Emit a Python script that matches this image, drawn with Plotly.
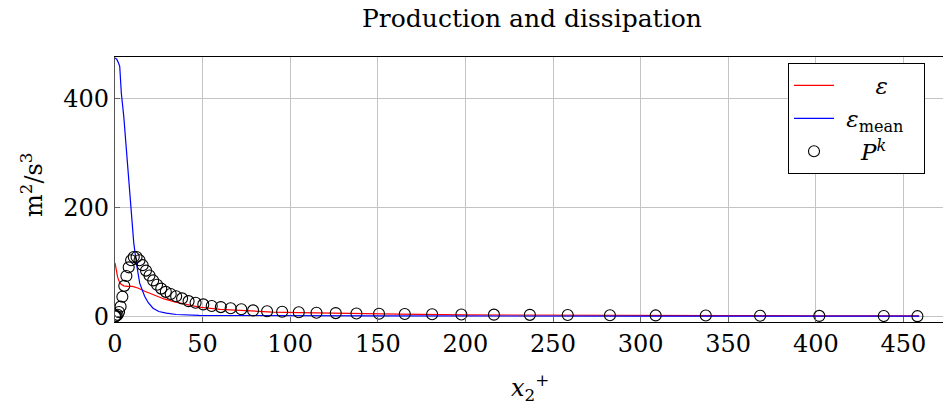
import plotly.graph_objects as go

# ---- data ----
x_eps = [0, 0.5, 1.5, 2.5, 3.5, 5, 7, 10, 13, 17, 22.5, 28, 34, 40, 48, 60, 75, 90, 105,
         130, 162, 200, 250, 300, 350, 400, 459]
eps = [98, 88, 72, 63, 59, 56, 55, 55, 52, 46, 38.5, 32, 26.5, 22, 17, 13, 10, 8, 7,
       5.5, 4, 2.8, 2, 1.6, 1.3, 1.1, 1.0]

x_mean = [0, 1, 2, 2.7, 3.6, 5, 6.5, 8, 9.4, 10.7, 12.2, 14.1, 16.9, 19, 21.7, 25, 29.3,
          35, 48, 80, 150, 300, 459]
eps_mean = [474, 472, 465, 459, 410, 367, 306, 245, 183, 135, 98, 61, 37, 25, 15, 9, 6,
            3.5, 2, 1.2, 0.8, 0.6, 0.5]

x_pk = [0, 0.3, 0.8, 1.5, 2.3, 3.2, 4.2, 5.3, 6.5, 7.8, 9.2, 10.7, 12.3, 14.0, 15.8,
        17.7, 19.7, 21.8, 24.0, 26.4, 29.0, 31.8, 34.9, 38.3, 42.0, 46.0, 50.4, 55.2,
        60.4, 66.0, 72.1, 78.8, 86.8, 95.4, 104.9, 115, 126, 137.8, 150.7, 165.4, 181,
        197.7, 216.3, 236.8, 258.4, 282.5, 308.6, 337.2, 368.2, 402, 438.8, 458]
pk = [0, 0.3, 1, 3, 8, 18, 36, 56, 74, 90, 103, 109, 109, 103, 94,
      84, 75, 66, 58, 51, 45, 41, 37, 33, 28, 25, 22, 19,
      17, 15, 13, 11, 9.5, 8.5, 7.5, 6.8, 6, 5.4, 4.8, 4.3, 3.9,
      3.5, 3.2, 2.8, 2.5, 2.1, 1.8, 1.5, 1.2, 0.9, 0.6, 0.4]

x_ticks = [0, 50, 100, 150, 200, 250, 300, 350, 400, 450]
y_ticks = [0, 200, 400]

FONT = "DejaVu Serif"
FS = 24
NB = "\u00a0"

fig = go.Figure()
fig.add_trace(go.Scatter(x=x_eps, y=eps, mode="lines", line=dict(color="#ff0000", width=1.2),
                         name=NB * 5 + "<i>ε</i>"))
fig.add_trace(go.Scatter(x=x_mean, y=eps_mean, mode="lines", line=dict(color="#0000ff", width=1.2),
                         name=NB + "<i>ε</i><sub>mean</sub>" + NB * 2))
fig.add_trace(go.Scatter(x=x_pk, y=pk, mode="markers",
                         marker=dict(symbol="circle-open", size=11, color="black", line=dict(width=1.1)),
                         name=NB * 3 + "<i>P</i><sup><i>k</i></sup>"))

L, R, T, B = 115, 0, 57, 89
W, H = 943, 411
pw = W - L - R
ph = H - T - B

def px(xp):
    return (xp - L) / pw

def py(yp):
    return (H - B - yp) / ph

fig.update_layout(
    width=W, height=H,
    margin=dict(l=L, r=R, t=T, b=B),
    paper_bgcolor="white", plot_bgcolor="white",
    font=dict(family=FONT, size=FS, color="black"),
    showlegend=True,
    legend=dict(x=px(788), y=py(63), xanchor="left", yanchor="top",
                bordercolor="black", borderwidth=1, bgcolor="white",
                font=dict(family=FONT, size=FS - 1), itemwidth=40, tracegroupgap=0),
    xaxis=dict(range=[0, pw / 1.752], tickvals=x_ticks, ticktext=[str(v) for v in x_ticks],
               showgrid=True, gridcolor="#c4c4c4", gridwidth=1, zeroline=False,
               showline=True, linecolor="black", linewidth=1.2, mirror=True,
               ticks="inside", ticklen=5, tickcolor="#666", tickfont=dict(family=FONT, size=FS)),
    yaxis=dict(range=[-10.3, 476], tickvals=y_ticks, ticktext=[str(v) for v in y_ticks],
               showgrid=True, gridcolor="#c4c4c4", gridwidth=1, zeroline=False,
               showline=True, linecolor="#555", linewidth=1.2, mirror=False,
               ticks="inside", ticklen=5, tickcolor="#666", tickfont=dict(family=FONT, size=FS)),
    annotations=[
        dict(text="Production and dissipation", x=px(532), y=py(18), xref="paper", yref="paper",
             showarrow=False, xanchor="center", yanchor="middle", font=dict(family=FONT, size=25)),
        dict(text="<i>x</i><sub>2</sub><sup>+</sup>", x=px(530), y=py(387), xref="paper", yref="paper",
             showarrow=False, xanchor="center", yanchor="middle", font=dict(family=FONT, size=FS)),
        dict(text="m<sup>2</sup>/s<sup>3</sup>", x=px(32), y=py(185), xref="paper", yref="paper",
             showarrow=False, xanchor="center", yanchor="middle", textangle=-90,
             font=dict(family=FONT, size=FS)),
    ],
)

fig.write_html("out.html")
